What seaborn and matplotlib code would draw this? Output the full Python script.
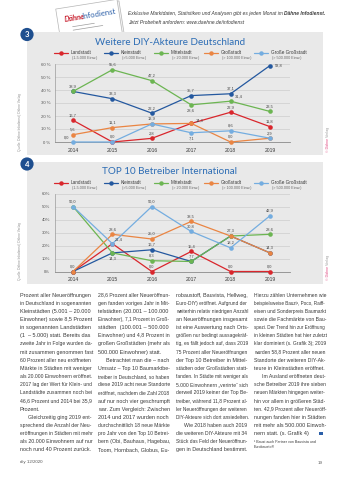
import matplotlib
matplotlib.use("Agg")
import numpy as np
import pandas as pd
import matplotlib.pyplot as plt
import seaborn as sns
from matplotlib import font_manager as fm
from matplotlib.font_manager import FontProperties
from matplotlib.patches import Rectangle, Circle, Polygon
from matplotlib.lines import Line2D

# ---------------------------------------------------------------- data
years = [2014, 2015, 2016, 2017, 2018, 2019]
categories = ["Landstadt", "Kleinstadt", "Mittelstadt", "Großstadt", "Große Großstadt"]
category_notes = ["(1-5.000 Einw.)", "(>5.000 Einw.)", "(> 20.000 Einw.)",
                  "(> 100.000 Einw.)", "(> 500.000 Einw.)"]

# Grafik 3: weitere DIY-Akteure, Anteil der Neueröffnungen nach Ortsgröße (%)
diy_landstadt = [16.7, 0.0, 2.8, 14.3, 22.9, 11.8]
diy_kleinstadt = [38.9, 33.3, 22.2, 35.7, 37.1, 58.8]
diy_mittelstadt = [38.9, 55.6, 47.2, 28.6, 31.4, 23.5]
diy_grossstadt = [5.6, 11.1, 13.9, 14.3, 0.0, 2.9]
diy_grosse_grossstadt = [0.0, 0.0, 13.9, 7.1, 8.6, 2.9]

# Grafik 4: Top 10 Betreiber, Neueröffnungen im Ausland nach Ortsgröße (%)
top_landstadt = [0.0, 21.4, 0.0, 15.4, 0.0, 0.0]
top_kleinstadt = [0.0, 14.3, 16.7, 7.7, 27.3, 14.3]
top_mittelstadt = [50.0, 14.3, 8.3, 7.7, 27.3, 28.6]
top_grossstadt = [0.0, 28.6, 25.0, 38.5, 27.3, 14.3]
top_grosse_grossstadt = [50.0, 21.4, 50.0, 30.8, 18.2, 42.9]

y_ticks = [0, 10, 20, 30, 40, 50, 60]

title_3 = "Weitere DIY-Akteure Deutschland"
title_4 = "TOP 10 Betreiber International"
source_text = "Quelle: Dähne Infodienst | Dähne Verlag"

header_1 = "Exklusive Marktdaten, Statistiken und Analysen gibt es jeden Monat im "
header_1b = "Dähne Infodienst."
header_2 = "Jetzt Probeheft anfordern: www.daehne.de/infodienst"

# body copy: per column a list of (indent first line, lines, last line justified)
col1 = [
    (False, ["Prozent aller Neueröffnungen",
             "in Deutschland in sogenannten",
             "Kleinstädten (5.001 – 20.000",
             "Einwohner) sowie 8,5 Prozent",
             "in sogenannten Landstädten",
             "(1 – 5.000) statt. Bereits das",
             "zweite Jahr in Folge wurden da-",
             "mit zusammen genommen fast",
             "60 Prozent aller neu eröffneten",
             "Märkte in Städten mit weniger",
             "als 20.000 Einwohnern eröffnet.",
             "2017 lag der Wert für Klein- und",
             "Landstädte zusammen noch bei",
             "46,6 Prozent und 2014 bei 35,9",
             "Prozent."], False),
    (True, ["Gleichzeitig ging 2019 ent-",
            "sprechend die Anzahl der Neu-",
            "eröffnungen in Städten mit mehr",
            "als 20.000 Einwohnern auf nur",
            "noch rund 40 Prozent zurück."], True),
]
col2 = [
    (False, ["28,6 Prozent aller Neueröffnun-",
             "gen fanden voriges Jahr in Mit-",
             "telstädten (20.001 – 100.000",
             "Einwohner), 7,1 Prozent in Groß-",
             "städten (100.001 – 500.000",
             "Einwohner) und 4,8 Prozent in",
             "großen Großstädten (mehr als",
             "500.000 Einwohner) statt."], False),
    (True, ["Betrachtet man die – nach",
            "Umsatz – Top 10 Baumarktbe-",
            "treiber in Deutschland, so haben",
            "diese 2019 acht neue Standorte",
            "eröffnet, nachdem die Zahl 2018",
            "auf nur noch vier geschrumpft",
            "war. Zum Vergleich: Zwischen",
            "2014 und 2017 wurden noch",
            "durchschnittlich 18 neue Märkte",
            "pro Jahr von den Top 10 Betrei-",
            "bern (Obi, Bauhaus, Hagebau,",
            "Toom, Hornbach, Globus, Eu-"], True),
]
col3 = [
    (False, ["robaustoff, Bauvista, Hellweg,",
             "Euro-DIY) eröffnet. Aufgrund der",
             "weiterhin relativ niedrigen Anzahl",
             "an Neueröffnungen insgesamt",
             "ist eine Auswertung nach Orts-",
             "größen nur bedingt aussagekräf-",
             "tig, es fällt jedoch auf, dass 2019",
             "75 Prozent aller Neueröffnungen",
             "der Top 10 Betreiber in Mittel-",
             "städten oder Großstädten statt-",
             "fanden. In Städte mit weniger als",
             "5.000 Einwohnern „verirrte“ sich",
             "derweil 2019 keiner der Top Be-",
             "treiber, während 11,8 Prozent al-",
             "ler Neueröffnungen der weiteren",
             "DIY-Akteure sich dort ansiedelten."], False),
    (True, ["Wie 2018 haben auch 2019",
            "die weiteren DIY-Akteure mit 34",
            "Stück das Feld der Neueröffnun-",
            "gen in Deutschland bestimmt."], True),
]
col4 = [
    (False, ["Hierzu zählen Unternehmen wie",
             "beispielsweise Bauzi¹, Poco, Raiff-",
             "eisen und Sonderpreis Baumarkt",
             "sowie die Fachmärkte von Bau-",
             "spezi. Der Trend hin zur Eröffnung",
             "in kleinen Städten hat hier zuletzt",
             "klar dominiert (s. Grafik 3); 2019",
             "wurden 58,8 Prozent aller neuen",
             "Standorte der weiteren DIY-Ak-",
             "teure in Kleinstädten eröffnet."], False),
    (True, ["Im Ausland eröffneten deut-",
            "sche Betreiber 2019 ihre sieben",
            "neuen Märkten hingegen weiter-",
            "hin vor allem in größeren Städ-",
            "ten. 42,9 Prozent aller Neueröff-",
            "nungen fanden hier in Städten",
            "mit mehr als 500.000 Einwoh-",
            "nern statt. (s. Grafik 4)"], False),
]
footnote = ["¹ Bauzi auch Partner von Bauvista und", "Eurobaustoff"]
footer_left = "diy 12/2020"
footer_right = "19"

# ---------------------------------------------------------------- style
sns.set_style("white")
plt.rcParams["font.family"] = ["Lato", "DejaVu Sans"]

avail = {f.name for f in fm.fontManager.ttflist}
BODY = "Liberation Sans" if "Liberation Sans" in avail else "DejaVu Sans"
HEAD = "Lato" if "Lato" in avail else "DejaVu Sans"

palette = {"Landstadt": "#d9262c", "Kleinstadt": "#24589f", "Mittelstadt": "#6cb552",
           "Großstadt": "#ea8543", "Große Großstadt": "#74ade0"}
PANEL = "#e9e9e9"
BADGE = "#1f4f8f"
TITLE = "#2d6db5"
INK = "#3a3a3a"

W, H = 340, 480
fig = plt.figure(figsize=(W / 100, H / 100), dpi=100, facecolor="white")
bg = fig.add_axes([0, 0, 1, 1], zorder=0)
bg.set_xlim(0, W)
bg.set_ylim(H, 0)
bg.axis("off")
renderer = fig.canvas.get_renderer()


def text_width(s, size, family=BODY, weight="normal", style="normal"):
    prop = FontProperties(family=family, size=size, weight=weight, style=style)
    w, _, _ = renderer.get_text_width_height_descent(s, prop, ismath=False)
    return w


def fit_size(s, target, family, weight="normal", style="normal"):
    return 10 * target / text_width(s, 10, family, weight, style)


def px_axes(left, top, right, bottom):
    return fig.add_axes([left / W, 1 - bottom / H, (right - left) / W, (bottom - top) / H],
                        zorder=3)


# ---------------------------------------------------------------- header card
ang = np.deg2rad(9)
cx, cy, cw, ch = 89, 21, 62, 34
rot = np.array([[np.cos(ang), np.sin(ang)], [-np.sin(ang), np.cos(ang)]])
corners = np.array([[-cw / 2, -ch / 2], [cw / 2, -ch / 2], [cw / 2, ch / 2], [-cw / 2, ch / 2]])
for off, fc in [((2.0, 1.5), "#f4f4f4"), ((0, 0), "white")]:
    pts = corners @ rot.T + np.array([cx + off[0], cy + off[1]])
    bg.add_patch(Polygon(pts, closed=True, fc=fc, ec="#b5b5b5", lw=0.5, zorder=1))
bg.text(75, 17.5, "Dähne", color="#c8202f", fontsize=5.4, style="italic",
        family=HEAD, weight="bold", rotation=9, ha="center", va="center", zorder=2)
bg.text(99, 13.8, "Infodienst", color="#2b5fa8", fontsize=5.6, family=HEAD,
        rotation=9, ha="center", va="center", zorder=2)
for dx, dy, ln in [(-18, 9, 22), (-18, 12.5, 30)]:
    p0 = np.array([dx, dy]) @ rot.T + np.array([cx, cy - 6])
    p1 = np.array([dx + ln, dy]) @ rot.T + np.array([cx, cy - 6])
    bg.plot([p0[0], p1[0]], [p0[1], p1[1]], color="#9c9c9c", lw=0.5, zorder=2)

hs = fit_size(header_1 + header_1b, 192, BODY, style="italic")
bg.text(128, 15.3, header_1, fontsize=hs, style="italic", family=BODY,
        color=INK, ha="left", va="baseline", zorder=2)
w1 = text_width(header_1, hs, BODY, style="italic")
bg.text(128 + w1, 15.3, header_1b, fontsize=hs, style="italic", weight="bold",
        family=BODY, color=INK, ha="left", va="baseline", zorder=2)
bg.text(128, 23.8, header_2, fontsize=hs, style="italic", family=BODY,
        color=INK, ha="left", va="baseline", zorder=2)

# ---------------------------------------------------------------- chart panels
panels = [
    dict(num="3", top=32, bottom=155, title=title_3, title_y=42.5, legend_y=53,
         ax_top=64, ax_bottom=142, pct=" %", copy_y=138, src_y=122,
         series=[diy_landstadt, diy_kleinstadt, diy_mittelstadt, diy_grossstadt,
                 diy_grosse_grossstadt],
         special={("Große Großstadt", 2014): (-3, 1.5, "right", "bottom"),
                  ("Mittelstadt", 2017): (0, -2.5, "center", "top"),
                  ("Landstadt", 2017): (3, 0.5, "left", "bottom"),
                  ("Große Großstadt", 2017): (0, -2.5, "center", "top"),
                  ("Kleinstadt", 2019): (3.5, 0, "left", "center"),
                  ("Mittelstadt", 2018): (3, 2, "left", "bottom")}),
    dict(num="4", top=161.5, bottom=284, title=title_4, title_y=171, legend_y=182.5,
         ax_top=193.5, ax_bottom=271.5, pct="%", copy_y=266, src_y=251,
         series=[top_landstadt, top_kleinstadt, top_mittelstadt, top_grossstadt,
                 top_grosse_grossstadt],
         special={("Kleinstadt", 2015): (0, -2.5, "center", "top"),
                  ("Landstadt", 2015): (2, 1.5, "left", "bottom")}),
]

legend_x = [54, 104, 154, 204, 254]
title_size = fit_size(title_3, 150, HEAD)

for p in panels:
    bg.add_patch(Rectangle((27, p["top"]), 296, p["bottom"] - p["top"],
                           fc=PANEL, ec="none", zorder=1))
    bg.add_patch(Circle((27, p["top"] + 2.5), 6.6, fc=BADGE, ec="none", zorder=2))
    bg.text(27, p["top"] + 2.7, p["num"], color="white", fontsize=5.5, weight="bold",
            family=HEAD, ha="center", va="center", zorder=3)
    bg.text(170, p["title_y"], p["title"], color=TITLE, fontsize=title_size,
            family=HEAD, ha="center", va="center", zorder=2)

    # legend row
    for lx, cat, note in zip(legend_x, categories, category_notes):
        ly = p["legend_y"]
        bg.add_line(Line2D([lx, lx + 14], [ly, ly], color=palette[cat], lw=0.9, zorder=2))
        bg.plot([lx + 7], [ly], "o", color=palette[cat], ms=3.2, mew=0, zorder=3)
        bg.text(lx + 17, ly, cat, fontsize=3.3, family=BODY, color=INK,
                ha="left", va="center", zorder=2)
        bg.text(lx + 17.5, ly + 5, note, fontsize=2.7, family=BODY, color="#6a6a6a",
                ha="left", va="center", zorder=2)

    # side notes
    bg.text(20, p["src_y"], source_text, rotation=90, fontsize=2.3, family=BODY,
            color="#8c8c8c", ha="center", va="center", zorder=2)
    bg.text(328, p["copy_y"], "© Dähne", rotation=90, fontsize=2.6, family=BODY,
            color="#e0457e", ha="center", va="top", zorder=2)
    bg.text(328, p["copy_y"], " Verlag", rotation=90, fontsize=2.6, family=BODY,
            color="#9a9a9a", ha="center", va="bottom", zorder=2)

    # the line chart itself
    df = pd.DataFrame({
        "Jahr": np.tile(years, len(categories)),
        "Anteil": np.concatenate(p["series"]),
        "Ortsgröße": np.repeat(categories, len(years)),
    })
    ax = px_axes(55, p["ax_top"], 290, p["ax_bottom"])
    ax.set_facecolor("none")
    sns.lineplot(data=df, x="Jahr", y="Anteil", hue="Ortsgröße", hue_order=categories,
                 palette=palette, marker="o", markersize=3.3, markeredgewidth=0,
                 linewidth=0.9, legend=False, ax=ax, clip_on=False, zorder=4)
    ax.set_xlim(2014 - 18 / 39.4, 2019 + 20 / 39.4)
    ax.set_ylim(0, 60)
    ax.set_xticks(years)
    ax.set_xticklabels([str(y) for y in years], fontsize=3.6, family=BODY, color=INK)
    ax.set_yticks(y_ticks)
    ax.set_yticklabels([f"{v}{p['pct']}" for v in y_ticks], fontsize=3.1,
                       family=BODY, color="#555555")
    ax.tick_params(axis="both", length=0)
    ax.tick_params(axis="x", pad=4.2)
    ax.tick_params(axis="y", pad=3.5)
    ax.set_xlabel("")
    ax.set_ylabel("")
    ax.yaxis.grid(True, color="#cdcdcd", lw=0.5)
    ax.set_axisbelow(True)
    for side in ("top", "right"):
        ax.spines[side].set_visible(False)
    ax.spines["left"].set_color("#9a9a9a")
    ax.spines["left"].set_linewidth(0.5)
    ax.spines["bottom"].set_color("#8a8a8a")
    ax.spines["bottom"].set_linewidth(0.6)

    # value labels, one per distinct value and year
    done = set()
    for cat, vals in zip(categories, p["series"]):
        for yr, v in zip(years, vals):
            key = (yr, v)
            if key in done:
                continue
            done.add(key)
            dx, dy, ha, va = p["special"].get((cat, yr), (0, 2.2, "center", "bottom"))
            ax.annotate(f"{v:.1f}".replace(".", ","), (yr, v), xytext=(dx, dy),
                        textcoords="offset points", fontsize=2.9, family=BODY,
                        color="#444444", ha=ha, va=va, zorder=6, annotation_clip=False)

# ---------------------------------------------------------------- body text
BODY_SIZE = 4.0
col_x = [20, 98, 176, 254]
col_w = 70.5
line0 = 296.6   # first baseline
step = 8.15


def justified(line, width, size):
    """Spread a line over the column width by widening its word gaps."""
    words = line.split(" ")
    if len(words) == 1:
        return line, size
    natural = text_width(line, size)
    if natural > width:
        return line, size * width / natural
    space = text_width("a a", size) - text_width("aa", size)
    extra = int((width - natural) // space)
    gaps = [1] * (len(words) - 1)
    for k in range(extra):
        # spread extra spaces evenly over the gaps
        gaps[(k * (len(gaps) // 2 + 1)) % len(gaps)] += 1
    out = words[0]
    for g, w in zip(gaps, words[1:]):
        out += " " * g + w
    return out, size * width / text_width(out, size)


def set_column(paragraphs, x0, y_start):
    y = y_start
    for indent, lines, justify_last in paragraphs:
        for i, line in enumerate(lines):
            left = x0 + (8 if (indent and i == 0) else 0)
            width = col_w - (left - x0)
            last = i == len(lines) - 1
            if last and not justify_last:
                size = BODY_SIZE
                natural = text_width(line, size)
                if natural > width:
                    size *= width / natural
                s = line
            else:
                s, size = justified(line, width, BODY_SIZE)
            bg.text(left, y, s, fontsize=size, family=BODY, color=INK,
                    ha="left", va="baseline", zorder=2)
            y += step
    return y


for col, x0 in zip([col1, col2, col3, col4], col_x):
    end_y = set_column(col, x0, line0)

bg.add_patch(Rectangle((319.3, end_y - step - 3.6), 3.8, 3.8, fc="#2b5fa8", ec="none", zorder=2))
bg.text(254, 443, footnote[0], fontsize=2.6, family=BODY, color=INK,
        ha="left", va="baseline", zorder=2)
bg.text(254, 448.5, footnote[1], fontsize=2.6, family=BODY, color=INK,
        ha="left", va="baseline", zorder=2)

bg.text(20, 463.5, footer_left, fontsize=3.2, family=BODY, color="#555555",
        ha="left", va="baseline", zorder=2)
bg.text(323, 463.5, footer_right, fontsize=3.2, family=BODY, color="#555555",
        ha="right", va="baseline", zorder=2)

fig.savefig("out.png", dpi=100, facecolor="white")
